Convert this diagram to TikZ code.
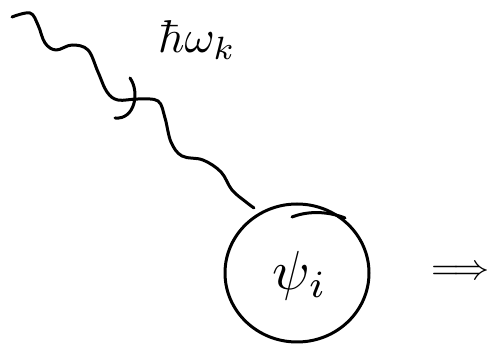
\documentclass[tikz,border=0pt]{standalone}
\usepackage{graphicx}
\usetikzlibrary{shapes.geometric}
\begin{document}
\begin{tikzpicture}[x=1pt,y=-1pt,
  ink/.style={line width=3pt,line cap=round,line join=round},
  lbl/.style={inner sep=0pt}]
\useasboundingbox (0,0) rectangle (495,344);
% circle
\node[ink,draw,ellipse,minimum width=144pt,minimum height=138pt] (psi) at (297,273) {};
\node[lbl] (psilbl) at (300,276) {\scalebox{5.5}{$\psi_i$}};
\coordinate (wstart) at (12,17);
\coordinate (wend) at (psi.130);
\draw[ink] plot[smooth,tension=0.6] coordinates {(12,17) (30,13) (38,25) (45,43) (56,50) (72,45) (88,50) (98,72) (107,92) (118,100) (138,99) (158,101) (165,118) (171,142) (182,156) (203,160) (221,172) (232,190) (246,202) (254,208)};
\draw[ink] (130,78) .. controls (140,92) and (135,120) .. (115,118);
\draw[ink] (292,217) .. controls (310,210) and (330,212) .. (345,218);
\node[lbl] (photon) at (197,40) {\scalebox{4.6}{$\hbar\omega_k$}};
\node[lbl] (arr) at (460,273) {\scalebox{3.6}{$\Longrightarrow$}};
\end{tikzpicture}
\end{document}
